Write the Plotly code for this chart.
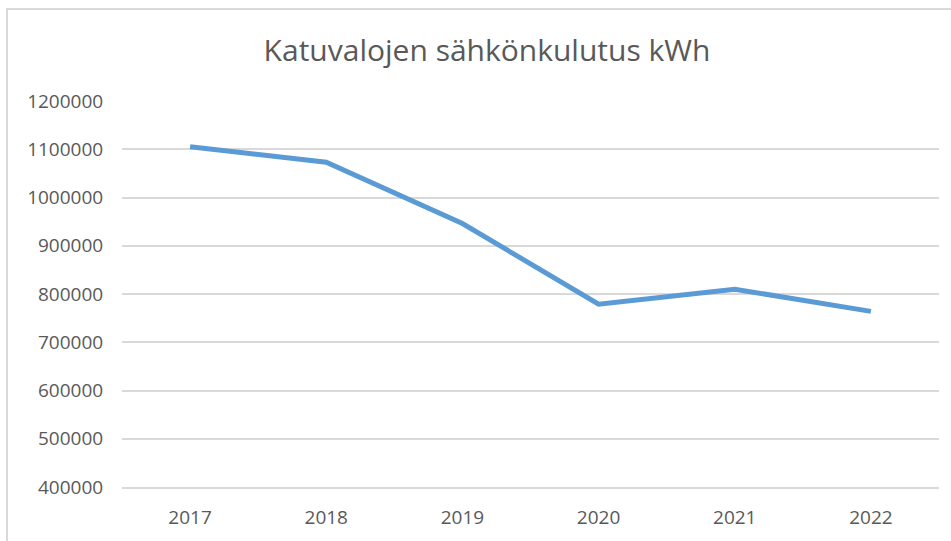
import plotly.graph_objects as go

# data
years = ["2017", "2018", "2019", "2020", "2021", "2022"]
kwh = [1105000, 1073000, 946000, 779000, 810000, 764000]
y_ticks = [400000, 500000, 600000, 700000, 800000, 900000, 1000000, 1100000, 1200000]

GRID = "#d9d9d9"
TEXT = "#595959"

W, H = 951, 541
M_L, M_R, M_T, M_B = 122, 12, 101, 54
plot_w = W - M_L - M_R
plot_h = H - M_T - M_B

fig = go.Figure(go.Scatter(
    x=years, y=kwh,
    mode="lines",
    line=dict(color="#5B9BD5", width=5),
    hoverinfo="x+y",
))

# chart-area border (left and top edges visible in the crop)
bx = (7 - M_L) / plot_w
by = 1 + (M_T - 9) / plot_h
fig.add_shape(type="path", xref="paper", yref="paper",
              path=f"M {bx} {-M_B / plot_h - 0.01} L {bx} {by} L {1 + M_R / plot_w + 0.01} {by}",
              line=dict(color=GRID, width=2), layer="below")

fig.update_layout(
    width=W, height=H,
    paper_bgcolor="white",
    plot_bgcolor="white",
    font=dict(family="Open Sans, sans-serif", color=TEXT, size=19),
    margin=dict(l=M_L, r=M_R, t=M_T, b=M_B, pad=0),
    showlegend=False,
    title=dict(
        text="Katuvalojen sähkönkulutus kWh",
        font=dict(size=30, color=TEXT),
        xref="container", x=487 / W, xanchor="center",
        yref="container", y=1 - 50 / H, yanchor="middle",
    ),
    xaxis=dict(
        type="category",
        range=[-0.5, len(years) - 0.5],
        showgrid=False,
        showline=True, linecolor=GRID, linewidth=1.5,
        ticks="outside", ticklen=12, tickcolor="rgba(0,0,0,0)",
        zeroline=False,
    ),
    yaxis=dict(
        range=[y_ticks[0], y_ticks[-1]],
        tickvals=y_ticks,
        ticktext=[str(v) for v in y_ticks],
        gridcolor=GRID, gridwidth=1.5,
        showline=False, zeroline=False,
        ticks="outside", ticklen=14, tickcolor="rgba(0,0,0,0)",
    ),
)

# drop the default page margin so the figure sits at the window's corner
fig.write_html(
    "out.html",
    config={"displayModeBar": False},
    post_script="document.body.style.margin='0';",
)
